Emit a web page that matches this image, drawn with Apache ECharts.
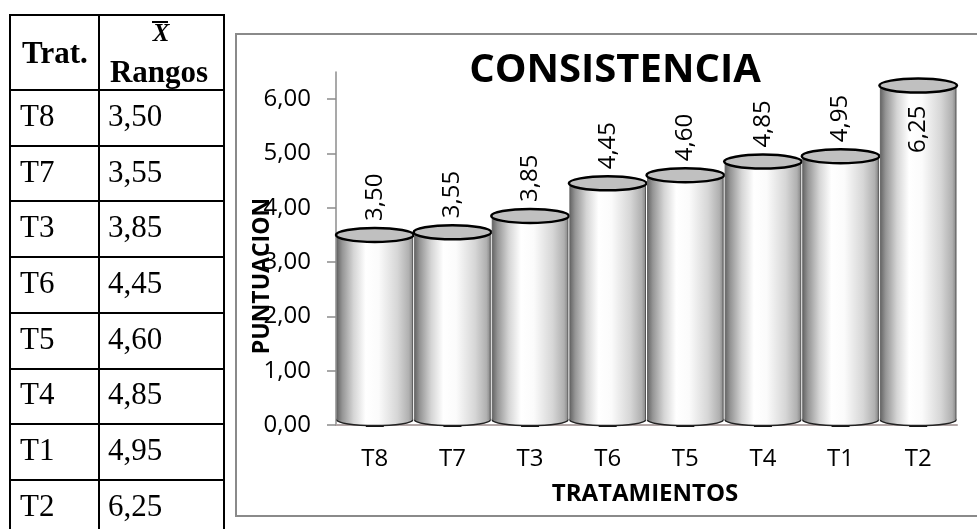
<!DOCTYPE html>
<html>
<head>
<meta charset="utf-8">
<script src="https://cdn.jsdelivr.net/npm/echarts@6/dist/echarts.min.js"></script>
<style>
  html, body { margin: 0; padding: 0; background: #fff; }
  #chart { width: 977px; height: 529px; }
</style>
</head>
<body>
<div id="chart"></div>
<script>
// Treatments in ranked order and their mean rank scores
const categories = ['T8', 'T7', 'T3', 'T6', 'T5', 'T4', 'T1', 'T2'];
const puntuacion = [3.50, 3.55, 3.85, 4.45, 4.60, 4.85, 4.95, 6.25];
const yTicks = [0, 1, 2, 3, 4, 5, 6];
const chartTitle = 'CONSISTENCIA';
const xName = 'TRATAMIENTOS';
const yName = 'PUNTUACION';
const tableHeadTrat = 'Trat.';
const tableHeadMean = 'X';
const tableHeadRank = 'Rangos';

const fmt = v => v.toFixed(2).replace('.', ',');

const chart = echarts.init(document.getElementById('chart'), null, { renderer: 'canvas' });

// ---- summary table drawn on the left ----
const tbl = { left: 10, mid: 99, right: 224, top: 15, headBottom: 90, rowH: 55.7 };
const tableGraphics = [];
const hLines = [tbl.top, tbl.headBottom];
categories.forEach((c, i) => hLines.push(tbl.headBottom + tbl.rowH * (i + 1)));
hLines.forEach(y => tableGraphics.push({
  type: 'line', shape: { x1: tbl.left - 1, y1: Math.round(y), x2: tbl.right + 1, y2: Math.round(y) },
  style: { stroke: '#000', lineWidth: 2 }
}));
[tbl.left, tbl.mid, tbl.right].forEach(x => tableGraphics.push({
  type: 'line', shape: { x1: x, y1: tbl.top - 1, x2: x, y2: 540 },
  style: { stroke: '#000', lineWidth: 2 }
}));
tableGraphics.push(
  { type: 'text', x: 22, y: 55, style: { text: tableHeadTrat, font: 'bold 31px "Liberation Serif"', fill: '#000', verticalAlign: 'middle', align: 'left' } },
  { type: 'text', x: 161, y: 35, style: { text: tableHeadMean, font: 'italic bold 25px "Liberation Serif"', fill: '#000', verticalAlign: 'middle', align: 'center' } },
  { type: 'line', shape: { x1: 152, y1: 22, x2: 168, y2: 22 }, style: { stroke: '#000', lineWidth: 2 } },
  { type: 'text', x: 159, y: 74, style: { text: tableHeadRank, font: 'bold 31px "Liberation Serif"', fill: '#000', verticalAlign: 'middle', align: 'center' } }
);
categories.forEach((c, i) => {
  const cy = tbl.headBottom + tbl.rowH * i + tbl.rowH / 2;
  tableGraphics.push(
    { type: 'text', x: 20, y: cy, style: { text: c, font: '31px "Liberation Serif"', fill: '#000', verticalAlign: 'middle', align: 'left' } },
    { type: 'text', x: 108, y: cy, style: { text: fmt(puntuacion[i]), font: '31px "Liberation Serif"', fill: '#000', verticalAlign: 'middle', align: 'left' } }
  );
});

// ---- cylinder shading ----
const bodyGradient = new echarts.graphic.LinearGradient(0, 0, 1, 0, [
  { offset: 0, color: '#666666' },
  { offset: 0.07, color: '#959595' },
  { offset: 0.22, color: '#d5d5d5' },
  { offset: 0.38, color: '#ffffff' },
  { offset: 0.55, color: '#fbfbfb' },
  { offset: 0.8, color: '#d6d6d6' },
  { offset: 0.95, color: '#b0b0b0' },
  { offset: 1, color: '#888888' }
]);

function renderCylinder(params, api) {
  const idx = api.value(0);
  const val = api.value(1);
  const top = api.coord([idx, val]);
  const base = api.coord([idx, 0]);
  const bw = api.size([1, 0])[0];
  const rx = bw / 2;
  const ry = 7;
  const bottomY = base[1] - 5;
  const x0 = top[0] - bw / 2;
  const cs = params.coordSys;
  const children = [
    // contact shadow on the floor
    { type: 'rect', shape: { x: top[0] - 9, y: base[1] - 1, width: 18, height: 3 }, style: { fill: '#111' } },
    // rounded bottom
    { type: 'ellipse', shape: { cx: top[0], cy: bottomY, rx: rx - 1, ry: 5.5 }, style: { fill: bodyGradient, stroke: '#222', lineWidth: 1.5 } },
    // body
    { type: 'rect', shape: { x: x0 + 1, y: top[1], width: bw - 2, height: bottomY - top[1] }, style: { fill: bodyGradient } },
    { type: 'line', shape: { x1: x0 + 1, y1: top[1], x2: x0 + 1, y2: bottomY }, style: { stroke: '#666', lineWidth: 1 } },
    { type: 'line', shape: { x1: x0 + bw - 1, y1: top[1], x2: x0 + bw - 1, y2: bottomY }, style: { stroke: '#555', lineWidth: 1 } },
    // lid
    { type: 'ellipse', shape: { cx: top[0], cy: top[1], rx: rx, ry: ry }, style: { fill: '#c0c0c0', stroke: '#000', lineWidth: 2.5 } }
  ];
  // value label, rotated; placed inside the lid when there is no room above
  const labelLen = 50;
  const outsideAnchor = top[1] - ry - 7;
  const text = fmt(val);
  if (outsideAnchor - labelLen < cs.y) {
    children.push({
      type: 'text', x: top[0], y: top[1] + 20, rotation: Math.PI / 2,
      style: { text: text, font: '24px "Open Sans"', fill: '#000', align: 'right', verticalAlign: 'middle' }
    });
  } else {
    children.push({
      type: 'text', x: top[0], y: outsideAnchor, rotation: Math.PI / 2,
      style: { text: text, font: '24px "Open Sans"', fill: '#000', align: 'left', verticalAlign: 'middle' }
    });
  }
  return { type: 'group', children: children };
}

const option = {
  animation: false,
  backgroundColor: '#fff',
  grid: { left: 336, top: 72, width: 621, height: 353 },
  xAxis: {
    type: 'category',
    data: categories,
    axisLine: { show: true, lineStyle: { color: '#b2a6a6', width: 2 } },
    axisTick: { show: false },
    axisLabel: { color: '#000', fontFamily: 'Open Sans', fontSize: 24, margin: 22 },
    splitLine: { show: false }
  },
  yAxis: {
    type: 'value',
    min: 0,
    max: 6.5,
    interval: 1,
    axisLine: { show: true, lineStyle: { color: '#8c8c8c', width: 1.5 } },
    axisTick: { show: true, length: 9, customValues: yTicks, lineStyle: { color: '#8c8c8c', width: 1.5 } },
    axisLabel: {
      customValues: yTicks,
      color: '#000', fontFamily: 'Open Sans', fontSize: 24, margin: 25,
      formatter: v => fmt(v)
    },
    splitLine: { show: false }
  },
  series: [{
    type: 'custom',
    renderItem: renderCylinder,
    encode: { x: 0, y: 1 },
    data: categories.map((c, i) => [i, puntuacion[i]]),
    clip: false
  }],
  graphic: [
    { type: 'rect', shape: { x: 236, y: 34, width: 800, height: 482 }, style: { fill: 'none', stroke: '#8a8a8a', lineWidth: 2 }, z: 1 },
    { type: 'text', x: 615, y: 71, style: { text: chartTitle, font: 'bold 40px "Open Sans"', fill: '#000', align: 'center', verticalAlign: 'middle' }, z: 10 },
    { type: 'text', x: 645, y: 494, style: { text: xName, font: 'bold 24px "Open Sans"', fill: '#000', align: 'center', verticalAlign: 'middle' }, z: 10 },
    { type: 'text', x: 262, y: 276, rotation: Math.PI / 2, style: { text: yName, font: 'bold 23px "Open Sans"', fill: '#000', align: 'center', verticalAlign: 'middle' }, z: 10 }
  ].concat(tableGraphics)
};

chart.setOption(option);
</script>
</body>
</html>
